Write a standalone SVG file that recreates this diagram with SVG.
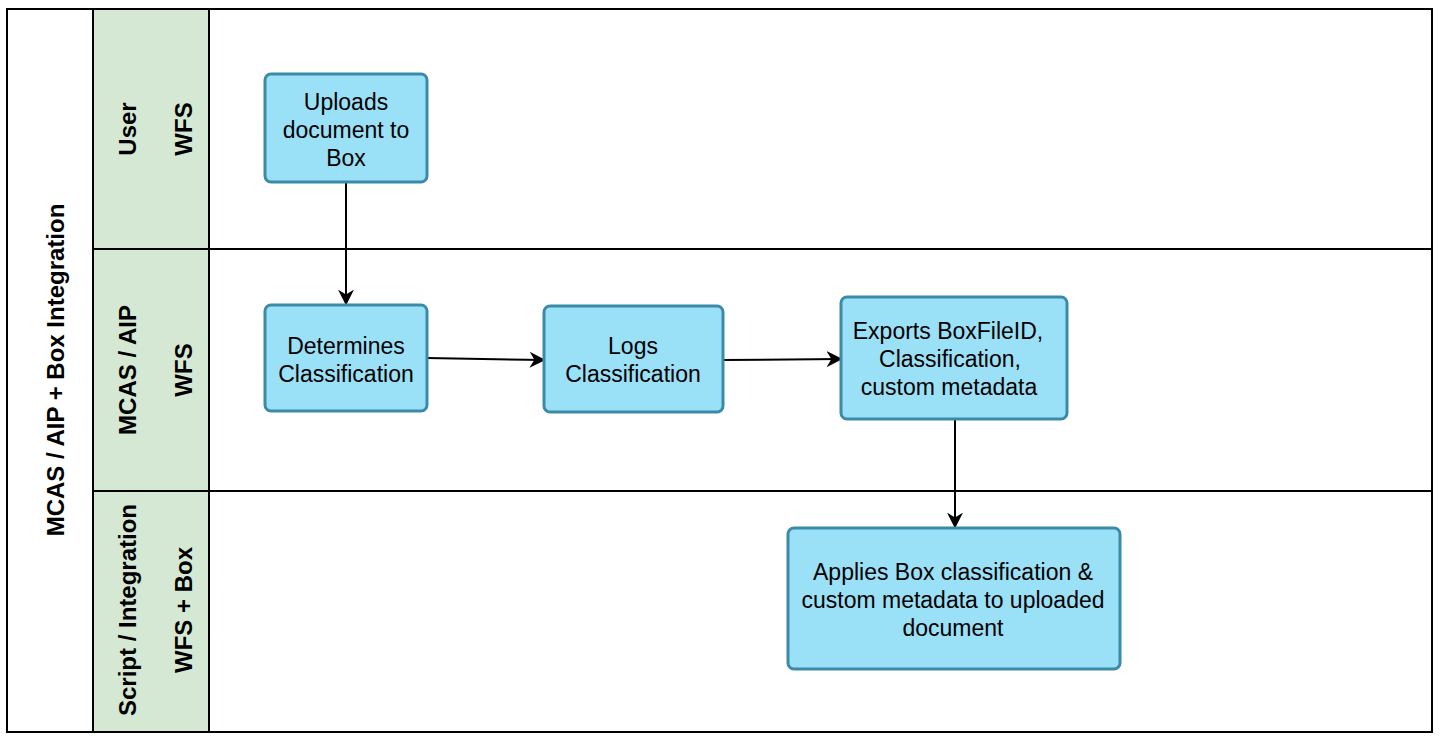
<svg xmlns="http://www.w3.org/2000/svg" width="1440" height="740" viewBox="0 0 1440 740">
<style>
.lane{fill:#ffffff;stroke:#000;stroke-width:2}
.hdr{fill:#d5e8d4;stroke:#000;stroke-width:2}
.lbl{font-family:"Liberation Sans",Arial,sans-serif;font-size:24px;font-weight:bold;fill:#000;text-anchor:middle;dominant-baseline:central}
.node rect{fill:#9ae1f8;stroke:#3a8aa8;stroke-width:3}
.node text{font-family:"Liberation Sans",Arial,sans-serif;font-size:23px;fill:#000;text-anchor:middle;dominant-baseline:central}
.conn{stroke:#000;stroke-width:2;fill:none;marker-end:url(#arr)}
</style>
<defs>
<marker id="arr" viewBox="0 0 10 10" refX="9" refY="5" markerWidth="16" markerHeight="16" markerUnits="userSpaceOnUse" orient="auto">
<path d="M0,0 L10,5 L0,10 L3,5 Z" fill="#000"/>
</marker>
</defs>
<rect width="1440" height="740" fill="#fff"/>
<g id="pool">
<rect class="lane" x="7" y="9" width="1425" height="723"/>
<text class="lbl" transform="translate(55,370) rotate(-90)">MCAS / AIP + Box Integration</text>
</g>
<g id="lane-user">
<rect class="lane" x="93" y="9" width="1339" height="240"/>
<rect class="hdr" x="93" y="9" width="116" height="240"/>
<text class="lbl" transform="translate(127,129) rotate(-90)">User</text>
<text class="lbl" transform="translate(183,129) rotate(-90)">WFS</text>
</g>
<g id="lane-mcas">
<rect class="lane" x="93" y="249" width="1339" height="242"/>
<rect class="hdr" x="93" y="249" width="116" height="242"/>
<text class="lbl" transform="translate(127,370) rotate(-90)">MCAS / AIP</text>
<text class="lbl" transform="translate(183,370) rotate(-90)">WFS</text>
</g>
<g id="lane-script">
<rect class="lane" x="93" y="491" width="1339" height="241"/>
<rect class="hdr" x="93" y="491" width="116" height="241"/>
<text class="lbl" transform="translate(127,610) rotate(-90)">Script / Integration</text>
<text class="lbl" transform="translate(183,610) rotate(-90)">WFS + Box</text>
</g>
<g id="connectors">
<path class="conn" d="M346,182 L346,304"/>
<path class="conn" d="M427,358 L544,360"/>
<path class="conn" d="M723,360 L841,359"/>
<path class="conn" d="M955,419 L955,527"/>
</g>
<g id="n1" class="node">
<rect x="265" y="74" width="162" height="108" rx="6"/>
<text x="346" y="102">Uploads</text>
<text x="346" y="130">document to</text>
<text x="346" y="158">Box</text>
</g>
<g id="n2" class="node">
<rect x="265" y="305" width="162" height="106" rx="6"/>
<text x="346" y="346">Determines</text>
<text x="346" y="374">Classification</text>
</g>
<g id="n3" class="node">
<rect x="544" y="306" width="179" height="106" rx="6"/>
<text x="633" y="346">Logs</text>
<text x="633" y="374">Classification</text>
</g>
<g id="n4" class="node">
<rect x="841" y="297" width="226" height="122" rx="6"/>
<text x="948" y="331">Exports BoxFileID,</text>
<text x="950" y="359">Classification,</text>
<text x="949" y="387">custom metadata</text>
</g>
<g id="n5" class="node">
<rect x="788" y="528" width="332" height="141" rx="6"/>
<text x="953" y="572">Applies Box classification &amp;</text>
<text x="953" y="600">custom metadata to uploaded</text>
<text x="953" y="628">document</text>
</g>
</svg>
